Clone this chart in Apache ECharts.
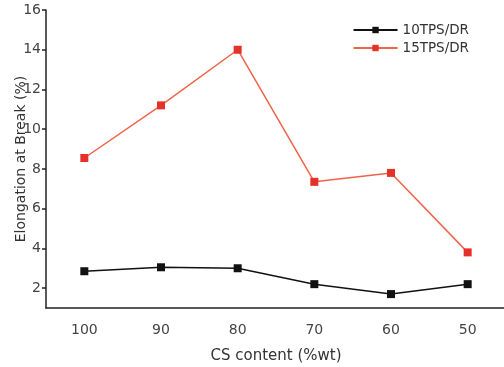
<!DOCTYPE html>
<html><head><meta charset="utf-8">
<script src="https://cdn.jsdelivr.net/npm/echarts@6/dist/echarts.min.js"></script>
<style>html,body{margin:0;padding:0;background:#fff}#c{width:504px;height:367px}</style>
</head><body><div id="c"></div>
<script>
const categories = ['100','90','80','70','60','50'];
const series10 = [2.85, 3.05, 3.0, 2.2, 1.7, 2.2];
const series15 = [8.55, 11.2, 14.0, 7.35, 7.8, 3.8];
const seriesNames = ['10TPS/DR','15TPS/DR'];
const xTitle = 'CS content (%wt)';
const yTitle = 'Elongation at Break (%)';

const font = 'DejaVu Sans';
const chart = echarts.init(document.getElementById('c'));
chart.setOption({
  animation: false,
  backgroundColor: '#fff',
  grid: {left: 46, top: 10, width: 460, bottom: 59, containLabel: false, outerBoundsMode: 'none'},
  legend: {
    right: 30, top: 18, orient: 'vertical', itemGap: 4,
    itemWidth: 44, itemHeight: 8,
    textStyle: {fontFamily: font, fontSize: 13.5, color: '#333'},
    data: seriesNames
  },
  xAxis: {
    type: 'category', data: categories, boundaryGap: true,
    name: xTitle, nameLocation: 'middle', nameGap: 41, nameMoveOverlap: false,
    nameTextStyle: {fontFamily: font, fontSize: 15, color: '#333'},
    axisLine: {lineStyle: {color: '#222', width: 1.5}},
    axisTick: {alignWithLabel: true, length: 5, lineStyle: {color: '#222', width: 1.5}},
    axisLabel: {fontFamily: font, fontSize: 14, color: '#444', margin: 15}
  },
  yAxis: {
    type: 'value', min: 1, max: 16, minInterval: 2, maxInterval: 2,
    name: yTitle, nameLocation: 'middle', nameGap: 18, nameMoveOverlap: false,
    nameTextStyle: {fontFamily: font, fontSize: 14, color: '#333'},
    axisLine: {show: true, lineStyle: {color: '#222', width: 1.5}},
    axisTick: {show: true, length: 4, lineStyle: {color: '#222', width: 1.5}},
    axisLabel: {fontFamily: font, fontSize: 14, color: '#444', margin: 5, showMinLabel: false},
    splitLine: {show: false}
  },
  series: [
    {name: seriesNames[0], type: 'line', data: series10, symbol: 'rect', symbolSize: 8,
     lineStyle: {color: '#111', width: 1.5}, itemStyle: {color: '#111'}},
    {name: seriesNames[1], type: 'line', data: series15, symbol: 'rect', symbolSize: 8,
     lineStyle: {color: '#ef6448', width: 1.5}, itemStyle: {color: '#e4312a'}}
  ]
});
</script></body></html>
